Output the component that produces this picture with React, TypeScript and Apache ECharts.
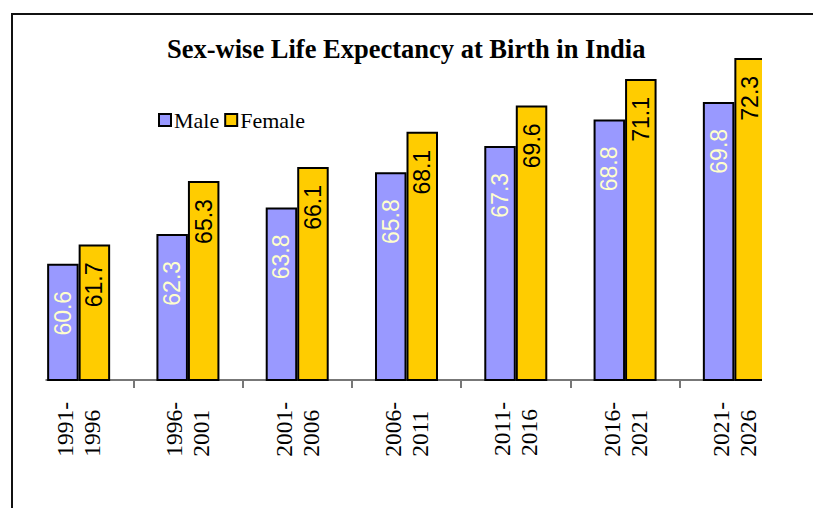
import React, { useEffect, useRef } from "react";
import * as echarts from "echarts";

const categories = ["1991-\n1996", "1996-\n2001", "2001-\n2006", "2006-\n2011", "2011-\n2016", "2016-\n2021", "2021-\n2026"];
const maleValues = [60.6, 62.3, 63.8, 65.8, 67.3, 68.8, 69.8];
const femaleValues = [61.7, 65.3, 66.1, 68.1, 69.6, 71.1, 72.3];
const seriesNames = ["Male", "Female"];
const titleText = "Sex-wise Life Expectancy at Birth in India";

export default function App() {
  const ref = useRef<HTMLDivElement>(null);
  useEffect(() => {
    document.body.style.margin = "0";
    const chart = echarts.init(ref.current!, null, { renderer: "svg" });
    const barLabel = (color: string, distance: number) => ({
      show: true,
      position: "insideTop",
      rotate: 90,
      align: "right",
      verticalAlign: "middle",
      distance,
      color,
      fontFamily: "Liberation Sans",
      fontSize: 23,
    });
    chart.setOption({
      animation: false,
      backgroundColor: "#fff",
      title: {
        text: titleText,
        left: 162,
        top: 30,
        textStyle: { fontFamily: "Liberation Serif", fontWeight: "bold", fontSize: 26.5, color: "#000" },
      },
      legend: {
        data: seriesNames,
        left: 153,
        top: 104,
        icon: "rect",
        itemWidth: 12,
        itemHeight: 12,
        itemGap: 5,
        itemStyle: { borderColor: "#000", borderWidth: 2 },
        textStyle: { fontFamily: "Liberation Serif", fontSize: 22, color: "#000", padding: [0, 0, 0, -2] },
      },
      grid: { left: 24, right: 24, top: 28, bottom: 128, containLabel: false },
      xAxis: {
        type: "category",
        data: categories,
        axisLine: { lineStyle: { color: "#777", width: 2 } },
        axisTick: { show: true, length: 8, lineStyle: { color: "#777", width: 2 } },
        axisLabel: {
          rotate: 90,
          margin: 22,
          interval: 0,
          formatter: (v: string) => v.split("\n").map((s) => `{a|${s}}`).join("\n"),
          rich: {
            a: { fontFamily: "Liberation Serif", fontSize: 23.5, color: "#000", align: "left", lineHeight: 27 },
          },
        },
      },
      yAxis: { type: "value", min: 54, max: 74, show: false, splitLine: { show: false } },
      series: [
        {
          name: seriesNames[0],
          type: "bar",
          data: maleValues,
          barWidth: 31.5,
          barGap: "0%",
          itemStyle: { color: "#9999FF", borderColor: "#000", borderWidth: 2 },
          label: barLabel("#FFFFCC", 27),
        },
        {
          name: seriesNames[1],
          type: "bar",
          data: femaleValues,
          barWidth: 31.5,
          barGap: "0%",
          itemStyle: { color: "#FFCC00", borderColor: "#000", borderWidth: 2 },
          label: barLabel("#000", 18),
        },
      ],
      graphic: [
        { type: "rect", z: 100, shape: { x: 762, y: 16, width: 60, height: 500 }, style: { fill: "#fff" } },
        { type: "rect", z: 100, shape: { x: 14, y: 376, width: 31.5, height: 20 }, style: { fill: "#fff" } },
        { type: "line", z: 110, shape: { x1: 11, y1: 14, x2: 813, y2: 14 }, style: { stroke: "#111", lineWidth: 2 } },
        { type: "line", z: 110, shape: { x1: 12, y1: 14, x2: 12, y2: 508 }, style: { stroke: "#111", lineWidth: 2 } },
      ],
    });
    return () => chart.dispose();
  }, []);
  return <div ref={ref} style={{ width: 813, height: 508 }} />;
}
